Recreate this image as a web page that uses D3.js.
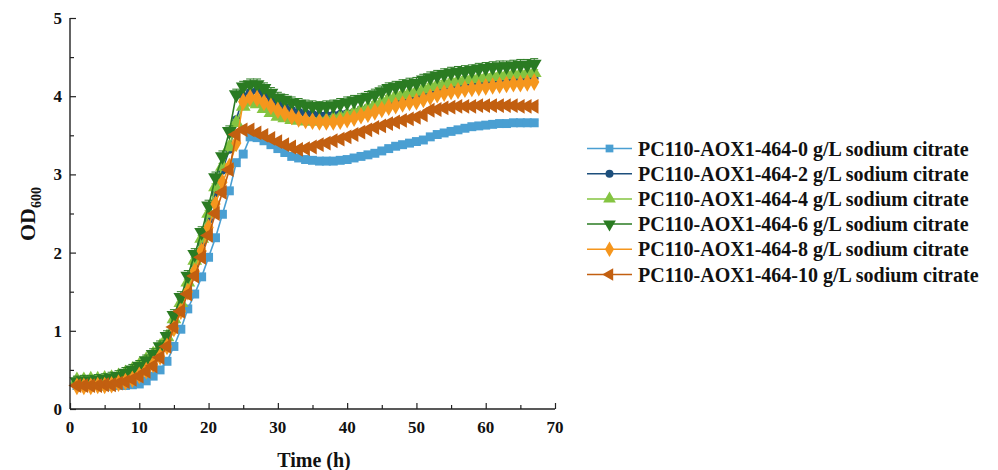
<!DOCTYPE html>
<html>
<head>
<meta charset="utf-8">
<script src="https://cdn.jsdelivr.net/npm/d3@7"></script>
<style>
  body { margin: 0; background: #fff; }
  svg text { font-family: "Liberation Serif", "Times New Roman", serif; font-weight: bold; fill: #111; }
</style>
</head>
<body>
<svg id="chart" width="998" height="470"></svg>
<script>
// sampling times (h)
var hours = [1,2,3,4,5,6,7,8,9,10,11,12,13,14,15,16,17,18,19,20,21,22,23,24,25,26,27,28,29,30,
  31,32,33,34,35,36,37,38,39,40,41,42,43,44,45,46,47,48,49,50,51,52,53,54,55,56,57,58,59,60,
  61,62,63,64,65,66,67];

var od0 = [0.30,0.30,0.30,0.30,0.29,0.29,0.30,0.30,0.31,0.32,
  0.36,0.42,0.50,0.61,0.80,1.02,1.28,1.47,1.69,1.94,
  2.19,2.49,2.79,3.15,3.26,3.48,3.47,3.43,3.38,3.33,
  3.28,3.23,3.21,3.19,3.18,3.17,3.17,3.17,3.18,3.19,
  3.21,3.23,3.25,3.27,3.30,3.33,3.36,3.38,3.40,3.42,
  3.44,3.48,3.51,3.53,3.55,3.57,3.59,3.61,3.62,3.63,
  3.64,3.65,3.65,3.66,3.66,3.66,3.66];

var od2 = [0.33,0.33,0.34,0.34,0.35,0.36,0.38,0.41,0.45,0.50,
  0.57,0.65,0.75,0.88,1.10,1.33,1.58,1.85,2.12,2.42,
  2.76,3.05,3.32,3.70,4.00,4.05,4.07,4.02,3.96,3.90,
  3.86,3.82,3.80,3.78,3.77,3.76,3.76,3.76,3.77,3.78,
  3.80,3.83,3.85,3.88,3.91,3.93,3.95,3.96,3.97,3.98,
  4.01,4.05,4.07,4.09,4.11,4.12,4.14,4.15,4.16,4.17,
  4.18,4.19,4.20,4.20,4.21,4.22,4.23];

var od4 = [0.37,0.37,0.38,0.38,0.39,0.40,0.42,0.46,0.50,0.56,
  0.63,0.70,0.80,0.92,1.15,1.36,1.62,1.90,2.18,2.50,
  2.84,3.10,3.35,3.66,3.87,3.92,3.90,3.84,3.79,3.74,
  3.72,3.70,3.69,3.68,3.68,3.68,3.69,3.71,3.73,3.76,
  3.79,3.82,3.85,3.89,3.93,3.97,4.00,4.02,4.04,4.06,
  4.09,4.12,4.14,4.16,4.18,4.19,4.21,4.22,4.23,4.24,
  4.25,4.26,4.27,4.28,4.28,4.29,4.30];

var od6 = [0.35,0.36,0.36,0.37,0.38,0.40,0.42,0.46,0.50,0.55,
  0.62,0.70,0.80,0.93,1.20,1.43,1.70,1.98,2.26,2.60,
  2.96,3.23,3.55,4.02,4.12,4.15,4.15,4.10,4.04,3.98,
  3.95,3.92,3.90,3.88,3.87,3.86,3.87,3.88,3.90,3.92,
  3.94,3.96,3.99,4.02,4.06,4.10,4.12,4.14,4.16,4.17,
  4.21,4.24,4.26,4.28,4.30,4.31,4.32,4.33,4.35,4.36,
  4.37,4.38,4.38,4.39,4.40,4.40,4.41];

var od8 = [0.29,0.29,0.29,0.30,0.30,0.31,0.33,0.35,0.38,0.43,
  0.49,0.57,0.67,0.80,1.03,1.25,1.50,1.76,2.02,2.32,
  2.62,2.90,3.10,3.40,3.93,3.98,3.97,3.92,3.87,3.82,
  3.78,3.74,3.71,3.69,3.68,3.67,3.67,3.67,3.68,3.70,
  3.72,3.75,3.77,3.80,3.83,3.86,3.88,3.90,3.92,3.93,
  3.96,3.99,4.02,4.04,4.06,4.07,4.09,4.10,4.11,4.12,
  4.13,4.14,4.15,4.16,4.16,4.17,4.18];

var od10 = [0.30,0.30,0.30,0.30,0.31,0.31,0.33,0.35,0.38,0.42,
  0.48,0.55,0.66,0.80,1.05,1.25,1.47,1.70,1.94,2.22,
  2.50,2.77,3.06,3.51,3.57,3.57,3.53,3.50,3.46,3.42,
  3.38,3.35,3.32,3.33,3.35,3.38,3.40,3.43,3.45,3.48,
  3.51,3.54,3.57,3.60,3.62,3.65,3.67,3.69,3.71,3.73,
  3.76,3.82,3.83,3.85,3.86,3.87,3.87,3.87,3.88,3.88,
  3.88,3.88,3.88,3.88,3.87,3.87,3.87];

var seriesNames = [
  'PC110-AOX1-464-0 g/L sodium citrate',
  'PC110-AOX1-464-2 g/L sodium citrate',
  'PC110-AOX1-464-4 g/L sodium citrate',
  'PC110-AOX1-464-6 g/L sodium citrate',
  'PC110-AOX1-464-8 g/L sodium citrate',
  'PC110-AOX1-464-10 g/L sodium citrate'
];
var seriesErr = [0.03, 0.03, 0.04, 0.07, 0.03, 0.03];
var xTicks = [0, 10, 20, 30, 40, 50, 60, 70];
var yTicks = [0, 1, 2, 3, 4, 5];

var colors = ['#4a9fd2', '#1d4f7c', '#84c441', '#2a7b22', '#f5961d', '#c25f10'];
var symbols = [d3.symbolSquare, d3.symbolCircle, d3.symbolTriangle, d3.symbolTriangle, d3.symbolDiamond, d3.symbolTriangle];
var rotations = [0, 0, 0, 180, 0, -90];
var symSizes = [80, 60, 95, 95, 90, 95];
var legSizes = [60, 50, 70, 70, 70, 70];

var allSeries = [od0, od2, od4, od6, od8, od10];

var svg = d3.select('#chart');
var x = d3.scaleLinear().domain([0, 70]).range([70, 555]);
var y = d3.scaleLinear().domain([0, 5]).range([409, 18]);

var plot = svg.append('g');

// axes (inward ticks, open frame)
var xAxis = svg.append('g').attr('transform', 'translate(0,' + y(0) + ')')
  .call(d3.axisBottom(x).tickValues(d3.range(0, 71, 5)).tickSize(-6).tickFormat(''));
xAxis.selectAll('.tick line').attr('y2', function(d) { return d % 10 === 0 ? -6 : -4; });
var yAxis = svg.append('g').attr('transform', 'translate(' + x(0) + ',0)')
  .call(d3.axisLeft(y).tickValues(d3.range(0, 5.01, 0.5)).tickSize(-6).tickFormat(''));
yAxis.selectAll('.tick line').attr('x2', function(d) { return d % 1 === 0 ? 6 : 4; });
[xAxis, yAxis].forEach(function(a) {
  a.select('.domain').attr('stroke', '#222').attr('stroke-width', 1.4);
  a.selectAll('.tick line').attr('stroke', '#222').attr('stroke-width', 1.2);
});
yAxis.select('.domain').attr('d', 'M0,' + y(0) + 'V' + y(5));
xAxis.select('.domain').attr('d', 'M' + x(0) + ',0H' + x(70));

svg.append('g').selectAll('text').data(xTicks).enter().append('text')
  .attr('x', function(d) { return x(d); })
  .attr('y', 433)
  .attr('text-anchor', 'middle')
  .style('font-size', '17px')
  .text(function(d) { return d; });

svg.append('g').selectAll('text').data(yTicks).enter().append('text')
  .attr('x', 62)
  .attr('y', function(d) { return y(d) + 6; })
  .attr('text-anchor', 'end')
  .style('font-size', '17px')
  .text(function(d) { return d; });

svg.append('text')
  .attr('x', 314).attr('y', 467)
  .attr('text-anchor', 'middle')
  .style('font-size', '20px')
  .text('Time (h)');

var yl = svg.append('text')
  .attr('transform', 'translate(35,214) rotate(-90)')
  .attr('text-anchor', 'middle')
  .style('font-size', '22px');
yl.append('tspan').text('OD');
yl.append('tspan').attr('dy', 6).style('font-size', '14px').text('600');

// series
var line = d3.line()
  .x(function(d) { return x(d[0]); })
  .y(function(d) { return y(d[1]); });

allSeries.forEach(function(vals, i) {
  var pts = hours.map(function(h, j) { return [h, vals[j]]; });
  var g = plot.append('g');

  g.append('path')
    .datum(pts)
    .attr('d', line)
    .attr('fill', 'none')
    .attr('stroke', colors[i])
    .attr('stroke-width', 1.6);

  var eb = g.selectAll('.eb').data(pts).enter().append('g');
  eb.append('line')
    .attr('x1', function(d) { return x(d[0]); })
    .attr('x2', function(d) { return x(d[0]); })
    .attr('y1', function(d) { return y(d[1] - seriesErr[i]); })
    .attr('y2', function(d) { return y(d[1] + seriesErr[i]); })
    .attr('stroke', colors[i]).attr('stroke-width', 1);
  eb.append('line')
    .attr('x1', function(d) { return x(d[0]) - 4; })
    .attr('x2', function(d) { return x(d[0]) + 4; })
    .attr('y1', function(d) { return y(d[1] + seriesErr[i]); })
    .attr('y2', function(d) { return y(d[1] + seriesErr[i]); })
    .attr('stroke', colors[i]).attr('stroke-width', 1);

  g.selectAll('.mk').data(pts).enter().append('path')
    .attr('d', d3.symbol().type(symbols[i]).size(symSizes[i]))
    .attr('transform', function(d) {
      return 'translate(' + x(d[0]) + ',' + y(d[1]) + ') rotate(' + rotations[i] + ')';
    })
    .attr('fill', colors[i]);
});

// legend
var legend = svg.append('g');
seriesNames.forEach(function(name, i) {
  var ly = 148.5 + i * 25.2;
  legend.append('line')
    .attr('x1', 587).attr('x2', 632)
    .attr('y1', ly).attr('y2', ly)
    .attr('stroke', colors[i]).attr('stroke-width', 1.5);
  legend.append('path')
    .attr('d', d3.symbol().type(symbols[i]).size(legSizes[i]))
    .attr('transform', 'translate(609.5,' + ly + ') rotate(' + rotations[i] + ')')
    .attr('fill', colors[i]);
  legend.append('text')
    .attr('x', 638).attr('y', ly + 7)
    .style('font-size', '20px')
    .text(name);
});
</script>
</body>
</html>
